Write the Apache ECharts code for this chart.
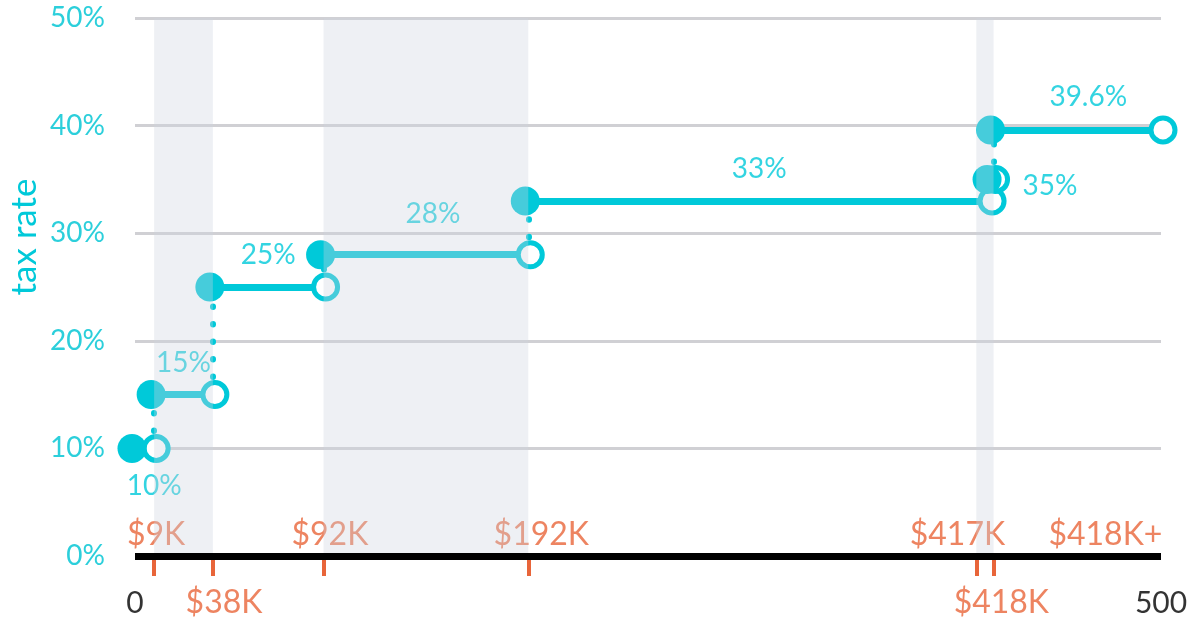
<!DOCTYPE html>
<html>
<head>
<meta charset="utf-8">
<script src="https://cdn.jsdelivr.net/npm/echarts@6/dist/echarts.min.js"></script>
<style>
  html, body { margin: 0; padding: 0; background: #fff; }
  #chart { width: 1192px; height: 624px; }
</style>
</head>
<body>
<div id="chart"></div>
<script>
// tax brackets (income in $K)
var rates = [10, 15, 25, 28, 33, 35, 39.6]
var bracketStart = [0, 9.325, 37.95, 91.9, 191.65, 416.7, 418.4]
var bracketEnd = [9.325, 37.95, 91.9, 191.65, 416.7, 418.4, 500]
var rateLabels = ['10%', '15%', '25%', '28%', '33%', '35%', '39.6%']

// shaded bands + orange ticks under the axis
var bands = [[9.325, 37.95], [91.9, 191.65], [410, 418.4]]
var tickValues = [9.325, 37.95, 91.9, 191.65, 410, 418.4]

// income labels (x = where the label sits)
var topLabels = ['$9K', '$92K', '$192K', '$417K', '$418K+']
var topLabelX = [10.3, 95, 198, 400.8, 472.9]
var bottomLabels = ['0', '$38K', '$418K', '500']
var bottomLabelX = [0, 43.4, 422.2, 500]

var cyan = '#00c9d9'
var orange = '#e8653a'
var font = 'Lato'

var chart = echarts.init(document.getElementById('chart'))

// label placement relative to the segment / point
var rateLabelData = rates.map(function (r, i) {
  var x = (bracketStart[i] + bracketEnd[i]) / 2
  var off = [0, -32]
  if (i === 0) { x = bracketEnd[0]; off = [0, 38] }
  if (i === 3) off = [7, -41]
  if (i === 5) { x = bracketStart[5]; off = [60, 7] }
  if (i === 6) off = [11, -33]
  return { value: [x, r], name: rateLabels[i], label: { offset: off } }
})

chart.setOption({
  animation: false,
  grid: { left: 135, right: 31, top: 18, bottom: 68 },
  xAxis: [
    {
      type: 'value', min: 0, max: 500, z: 20,
      axisLine: { show: true, lineStyle: { color: '#000', width: 7, cap: 'butt' } },
      axisTick: { show: false },
      axisLabel: { show: false },
      splitLine: { show: false }
    },
    {
      type: 'value', min: 0, max: 500, position: 'bottom', z: 1,
      axisLine: { show: false },
      axisTick: {
        show: true,
        customValues: tickValues,
        length: 20,
        lineStyle: { color: orange, width: 4 }
      },
      axisLabel: { show: false },
      splitLine: { show: false }
    }
  ],
  yAxis: {
    type: 'value', min: 0, max: 50, interval: 10,
    axisLine: { show: false },
    axisTick: { show: false },
    axisLabel: {
      formatter: '{value}%',
      color: '#2ccfdb',
      fontFamily: font,
      fontSize: 28,
      margin: 30
    },
    splitLine: { lineStyle: { color: '#d0d0d4', width: 3 } }
  },
  graphic: [
    {
      type: 'text', x: 25, y: 237, rotation: Math.PI / 2,
      style: {
        text: 'tax rate', fill: cyan, font: '35px ' + font,
        textAlign: 'center', textVerticalAlign: 'middle'
      }
    }
  ],
  series: [
    {
      // horizontal segments
      type: 'lines', coordinateSystem: 'cartesian2d', z: 2, silent: true,
      lineStyle: { color: cyan, width: 7, opacity: 1 },
      data: rates.map(function (r, i) {
        return { coords: [[bracketStart[i], r], [bracketEnd[i], r]] }
      })
    },
    {
      // dotted connectors between brackets
      type: 'lines', coordinateSystem: 'cartesian2d', z: 2, silent: true,
      lineStyle: { color: cyan, width: 6, opacity: 1, type: [0.5, 17], cap: 'round' },
      data: bracketEnd.slice(0, -1).map(function (b, i) {
        return { coords: [[b, rates[i]], [b, rates[i + 1]]] }
      })
    },
    {
      // open circles (bracket end)
      type: 'scatter', z: 3, silent: true,
      symbolSize: 24, symbolOffset: [2, 0],
      itemStyle: { color: '#fff', borderColor: cyan, borderWidth: 5, opacity: 1 },
      data: rates.map(function (r, i) { return [bracketEnd[i], r] })
    },
    {
      // filled circles (bracket start)
      type: 'scatter', z: 4, silent: true,
      symbolSize: 29, symbolOffset: [-3, 0],
      itemStyle: { color: cyan, opacity: 1 },
      data: rates.map(function (r, i) { return [bracketStart[i], r] })
    },
    {
      // rate labels
      type: 'scatter', z: 5, silent: true, symbolSize: 0,
      label: {
        show: true, position: 'inside', formatter: '{b}',
        color: cyan, fontFamily: font, fontSize: 28
      },
      data: rateLabelData
    },
    {
      // income labels above the axis
      type: 'scatter', z: 5, silent: true, symbolSize: 0,
      label: {
        show: true, position: 'inside', formatter: '{b}', offset: [0, -21],
        color: orange, fontFamily: font, fontSize: 32
      },
      data: topLabels.map(function (t, i) { return { name: t, value: [topLabelX[i], 0] } })
    },
    {
      // income labels below the axis
      type: 'scatter', z: 5, silent: true, symbolSize: 0,
      label: {
        show: true, position: 'inside', formatter: '{b}', offset: [0, 47],
        fontFamily: font, fontSize: 32
      },
      data: bottomLabels.map(function (t, i) {
        var isEnd = (i === 0 || i === bottomLabels.length - 1)
        return {
          name: t, value: [bottomLabelX[i], 0],
          label: { color: isEnd ? '#000' : orange, fontSize: isEnd ? 30 : 32 }
        }
      })
    },
    {
      // shaded bands drawn over everything (semi transparent)
      type: 'custom', z: 10, silent: true,
      encode: { x: [0, 1] },
      data: bands,
      renderItem: function (params, api) {
        var p0 = api.coord([api.value(0), 50])
        var p1 = api.coord([api.value(1), 0])
        return {
          type: 'rect',
          shape: { x: p0[0], y: p0[1], width: p1[0] - p0[0], height: p1[1] - p0[1] },
          style: { fill: 'rgba(205,210,222,0.34)' }
        }
      }
    }
  ]
})
</script>
</body>
</html>
